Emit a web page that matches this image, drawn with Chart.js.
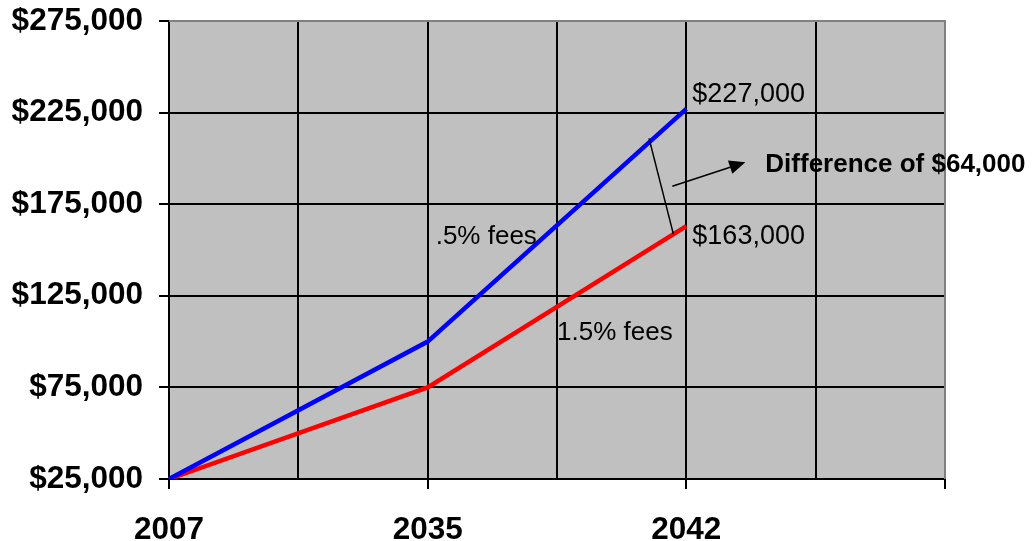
<!DOCTYPE html>
<html>
<head>
<meta charset="utf-8">
<script src="https://cdn.jsdelivr.net/npm/chart.js@4"></script>
<style>
html,body{margin:0;padding:0;background:#fff;}
#wrap{width:1035px;height:541px;position:relative;}
</style>
</head>
<body>
<div id="wrap"><canvas id="c" width="1035" height="541"></canvas></div>
<script>
const categories = ['2007', '', '2035', '', '2042', '', ''];
const lowFeeValues = [25000, null, 100000, null, 227000, null, null];   // .5% fees
const highFeeValues = [25000, null, 75000, null, 163000, null, null];   // 1.5% fees
const yTicks = [25000, 75000, 125000, 175000, 225000, 275000];
const lowFeeLabel = '.5% fees';
const highFeeLabel = '1.5% fees';
const lowEndLabel = '$227,000';
const highEndLabel = '$163,000';
const differenceLabel = 'Difference of $64,000';

const FONT = '"Liberation Sans", Arial, sans-serif';

const fmt = v => '$' + v.toLocaleString('en-US');

const plotPlugin = {
  id: 'plotBg',
  beforeDraw(chart) {
    const { ctx, chartArea: a } = chart;
    ctx.save();
    ctx.fillStyle = '#C0C0C0';
    ctx.fillRect(a.left, a.top, a.right - a.left, a.bottom - a.top);
    ctx.restore();
  },
  afterDatasetsDraw(chart) {
    const { ctx, scales } = chart;
    const x = scales.x, y = scales.y;
    ctx.save();
    // gray plot border top and right
    const a = chart.chartArea;
    ctx.strokeStyle = '#808080';
    ctx.lineWidth = 2;
    ctx.beginPath();
    ctx.moveTo(a.left, a.top);
    ctx.lineTo(a.right, a.top);
    ctx.lineTo(a.right, a.bottom);
    ctx.stroke();

    // annotations anchored to data
    const endIdx = 4;
    const px4 = x.getPixelForValue(endIdx);
    ctx.fillStyle = '#000';
    ctx.textBaseline = 'alphabetic';
    ctx.textAlign = 'left';
    ctx.font = '27px ' + FONT;
    ctx.fillText(lowEndLabel, px4 + 6, y.getPixelForValue(lowFeeValues[endIdx]) - 7);
    ctx.fillText(highEndLabel, px4 + 6, y.getPixelForValue(highFeeValues[endIdx]) + 18);

    // series labels
    ctx.font = '26px ' + FONT;
    ctx.fillText(lowFeeLabel, x.getPixelForValue(2) + 8, y.getPixelForValue(175000) + 40);
    ctx.fillText(highFeeLabel, x.getPixelForValue(3) + 0, y.getPixelForValue(125000) + 44);

    // connector line between the two series
    const cx1 = x.getPixelForValue(3.7), cx2 = x.getPixelForValue(3.9);
    ctx.strokeStyle = '#000';
    ctx.lineWidth = 1.5;
    ctx.beginPath();
    ctx.moveTo(cx1 + 1.5, y.getPixelForValue(200000) - 20);
    ctx.lineTo(cx2, y.getPixelForValue(highFeeValues[endIdx]) + 8);
    ctx.stroke();

    // arrow
    const ax1 = px4 - 14, ay1 = y.getPixelForValue(175000) - 18;
    const ax2 = px4 + 59, ay2 = y.getPixelForValue(175000) - 42;
    const ang = Math.atan2(ay2 - ay1, ax2 - ax1);
    const hl = 16, hw = 7;
    const bx = ax2 - hl * Math.cos(ang), by = ay2 - hl * Math.sin(ang);
    ctx.beginPath();
    ctx.moveTo(ax1, ay1);
    ctx.lineTo(bx, by);
    ctx.stroke();
    ctx.beginPath();
    ctx.moveTo(ax2, ay2);
    ctx.lineTo(bx + hw * Math.sin(ang), by - hw * Math.cos(ang));
    ctx.lineTo(bx - hw * Math.sin(ang), by + hw * Math.cos(ang));
    ctx.closePath();
    ctx.fill();

    // difference label
    ctx.font = 'bold 26px ' + FONT;
    ctx.fillText(differenceLabel, px4 + 79, y.getPixelForValue(175000) - 32);
    ctx.restore();
  }
};

new Chart(document.getElementById('c'), {
  type: 'line',
  data: {
    labels: categories,
    datasets: [
      { label: lowFeeLabel, data: lowFeeValues, borderColor: '#0000FF', borderWidth: 4.5,
        pointRadius: 0, spanGaps: true, tension: 0, fill: false, borderCapStyle: 'butt' },
      { label: highFeeLabel, data: highFeeValues, borderColor: '#FF0000', borderWidth: 4.5,
        pointRadius: 0, spanGaps: true, tension: 0, fill: false, borderCapStyle: 'butt' }
    ]
  },
  options: {
    responsive: false,
    animation: false,
    devicePixelRatio: 1,
    layout: { autoPadding: false, padding: { left: 0, right: 90, top: 21, bottom: 0 } },
    plugins: { legend: { display: false }, tooltip: { enabled: false } },
    scales: {
      x: {
        type: 'category',
        offset: false,
        grid: {
          color: ctx => ctx.index === categories.length - 1 ? 'rgba(0,0,0,0)' : '#000',
          lineWidth: 2,
          tickLength: 10,
          tickColor: ctx => ctx.index % 2 === 0 ? '#000' : 'rgba(0,0,0,0)',
          tickWidth: 2,
          drawOnChartArea: true
        },
        border: { display: true, color: '#000', width: 2 },
        ticks: {
          autoSkip: false, maxRotation: 0, minRotation: 0,
          color: '#000', padding: 22,
          font: { family: FONT, size: 31.5, weight: 'bold' }
        },
        afterFit(scale) { scale.height = 62; scale.paddingLeft = 0; scale.paddingRight = 0; }
      },
      y: {
        min: yTicks[0], max: yTicks[yTicks.length - 1],
        afterBuildTicks(scale) { scale.ticks = yTicks.map(v => ({ value: v })); },
        grid: {
          color: ctx => ctx.tick && ctx.tick.value === yTicks[yTicks.length - 1] ? 'rgba(0,0,0,0)' : '#000',
          lineWidth: 2,
          tickLength: 10,
          tickColor: '#000',
          tickWidth: 2
        },
        border: { display: true, color: '#000', width: 2 },
        ticks: {
          color: '#000', padding: 16,
          font: { family: FONT, size: 31.5, weight: 'bold' },
          callback: v => fmt(v)
        },
        afterFit(scale) { scale.width = 169; scale.paddingTop = 0; scale.paddingBottom = 0; }
      }
    }
  },
  plugins: [plotPlugin]
});
</script>
</body>
</html>
